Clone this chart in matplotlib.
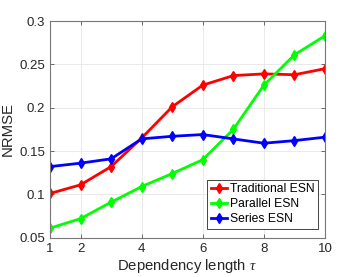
import matplotlib
matplotlib.use("Agg")
import matplotlib.pyplot as plt

plt.rcParams['font.family'] = ['Liberation Sans', 'DejaVu Sans']
plt.rcParams['mathtext.fontset'] = 'custom'
plt.rcParams['mathtext.it'] = 'Liberation Serif:italic'

tau = [1, 2, 3, 4, 5, 6, 7, 8, 9, 10]
traditional = [0.101, 0.111, 0.132, 0.165, 0.201, 0.226, 0.237, 0.239, 0.238, 0.245]
parallel = [0.061, 0.072, 0.091, 0.109, 0.124, 0.140, 0.175, 0.226, 0.261, 0.283]
series = [0.132, 0.136, 0.141, 0.164, 0.167, 0.169, 0.164, 0.159, 0.162, 0.166]
xticks = [1, 2, 4, 6, 8, 10]
yticks = [0.05, 0.1, 0.15, 0.2, 0.25, 0.3]
ytick_labels = ['0.05', '0.1', '0.15', '0.2', '0.25', '0.3']

fig = plt.figure(figsize=(3.6, 2.77), dpi=100)
ax = fig.add_axes([50/360, 1-237.7/277, 275/360, 216.7/277])

for y, c, lab in [(traditional, '#ff0000', 'Traditional ESN'),
                  (parallel, '#00ff00', 'Parallel ESN'),
                  (series, '#0000ff', 'Series ESN')]:
    ax.plot(tau, y, color=c, lw=2, marker='d', ms=5, label=lab)

ax.set_xlim(1, 10)
ax.set_ylim(0.05, 0.3)
ax.set_xticks(xticks)
ax.set_yticks(yticks)
ax.set_yticklabels(ytick_labels)
ax.grid(True, color='#e6e6e6', lw=0.6)
ax.set_axisbelow(True)
ax.tick_params(direction='in', top=True, right=True, labelsize=9.5, length=3,
               color='#555555', labelcolor='#262626', width=0.6)
for s in ax.spines.values():
    s.set_color('#777777')
    s.set_linewidth(0.8)
ax.set_xlabel(r'Dependency length $\tau$', fontsize=10.7, color='#262626', labelpad=2)
ax.set_ylabel('NRMSE', fontsize=10.7, color='#262626', labelpad=3)

leg = ax.legend(loc='lower right', fontsize=8.7, handlelength=1.4, handletextpad=0.2,
                borderpad=0.3, labelspacing=0.25, fancybox=False, framealpha=1,
                bbox_to_anchor=(0.975, 0.04), borderaxespad=0)
leg.get_frame().set_edgecolor('#262626')
leg.get_frame().set_linewidth(0.6)

fig.savefig('out.png', dpi=100)
